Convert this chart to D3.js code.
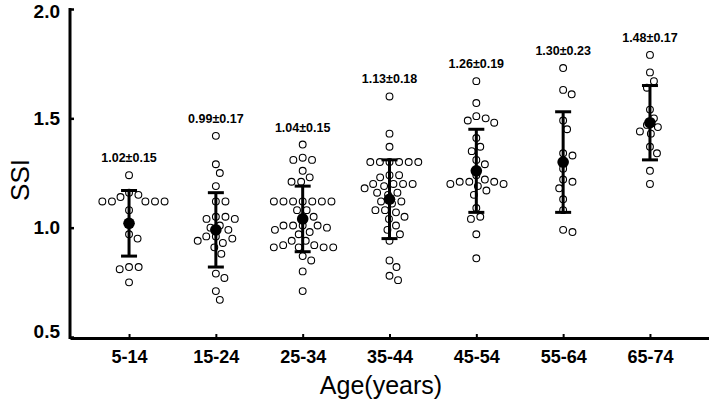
<!DOCTYPE html>
<html><head><meta charset="utf-8">
<script src="https://cdn.jsdelivr.net/npm/d3@7/dist/d3.min.js"></script>
<style>
html,body{margin:0;padding:0;background:#fff;}
svg{display:block;font-family:Arial,"Liberation Sans",Helvetica,sans-serif;}
</style></head><body>
<svg id="chart" width="709" height="407"></svg>
<script>
const categories = ["5-14","15-24","25-34","35-44","45-54","55-64","65-74"];
const means = [1.02,0.99,1.04,1.13,1.26,1.30,1.48];
const sds = [0.15,0.17,0.15,0.18,0.19,0.23,0.17];
const g5_14 = [1.24,1.16,1.15,1.14,1.12,1.12,1.12,1.12,1.12,1.08,0.97,0.95,0.82,0.82,0.81,0.75];
const g15_24 = [1.42,1.29,1.25,1.19,1.12,1.12,1.05,1.05,1.04,1.04,1.01,1.00,0.99,0.96,0.96,0.95,0.94,0.93,0.91,0.88,0.79,0.77,0.71,0.67];
const g25_34 = [1.38,1.32,1.31,1.31,1.26,1.23,1.21,1.21,1.12,1.12,1.12,1.12,1.12,1.12,1.12,1.08,1.08,1.05,1.01,1.01,1.01,1.01,1.00,0.99,0.98,0.97,0.94,0.94,0.92,0.92,0.91,0.91,0.91,0.91,0.87,0.85,0.80,0.71];
const g35_44 = [1.60,1.43,1.37,1.30,1.30,1.30,1.30,1.30,1.30,1.24,1.24,1.23,1.20,1.20,1.20,1.20,1.19,1.18,1.16,1.16,1.15,1.12,1.12,1.11,1.08,1.08,1.07,1.05,1.04,1.01,0.99,0.97,0.94,0.85,0.82,0.78,0.76];
const g45_54 = [1.67,1.57,1.51,1.50,1.49,1.48,1.41,1.37,1.35,1.31,1.29,1.24,1.22,1.21,1.21,1.21,1.20,1.20,1.19,1.17,1.15,1.09,1.05,1.04,0.97,0.86];
const g55_64 = [1.73,1.63,1.61,1.49,1.45,1.34,1.33,1.27,1.22,1.21,1.18,1.13,1.08,0.99,0.98];
const g65_74 = [1.79,1.71,1.67,1.64,1.54,1.50,1.47,1.46,1.44,1.43,1.37,1.34,1.26,1.20];
const groups = [g5_14,g15_24,g25_34,g35_44,g45_54,g55_64,g65_74];
const yTicks = [0.5,1.0,1.5,2.0];

const svg = d3.select("#chart");
const x = d3.scalePoint().domain(categories).range([70,709]).padding(0.68);
const y = d3.scaleLinear().domain([0.5,2.0]).range([337,9]);

// axes
const yAxis = d3.axisLeft(y).tickValues(yTicks).tickFormat(d3.format(".1f")).tickSize(-4).tickSizeOuter(0).tickPadding(10);
const gy = svg.append("g").attr("transform","translate(70,0)").call(yAxis);
gy.select(".domain").remove();
gy.append("line").attr("x1",0).attr("x2",0).attr("y1",y(2.0)-1).attr("y2",339).attr("stroke","#000").attr("stroke-width",3);
gy.selectAll(".tick line").attr("stroke","#000").attr("stroke-width",2.5);
gy.selectAll(".tick text").attr("fill","#000").style("font-size","19px").style("font-weight","bold");
gy.selectAll(".tick").filter(d=>d===2.0).select("text").attr("dy","0.45em");
gy.selectAll(".tick").filter(d=>d===0.5).select("text").attr("dy","0.05em");

const xAxis = d3.axisBottom(x).tickSize(-4).tickSizeOuter(0).tickPadding(12);
const gx = svg.append("g").attr("transform","translate(0,338)").call(xAxis);
gx.select(".domain").attr("stroke","#000").attr("stroke-width",3);
gx.selectAll(".tick line").attr("stroke","#000").attr("stroke-width",2);
gx.selectAll(".tick text").attr("fill","#000").style("font-size","18px").style("font-weight","bold");

svg.append("text").attr("transform","translate(29,180) rotate(-90)").attr("text-anchor","middle")
  .style("font-size","26px").text("SSI");
svg.append("text").attr("x",381).attr("y",394).attr("text-anchor","middle")
  .style("font-size","25px").text("Age(years)");

// beeswarm layout
function swarm(vals, dist){
  const pts = vals.map(v=>({v, py:y(v)})).sort((a,b)=>a.py-b.py);
  const placed = [];
  for(const p of pts){
    const cands=[0];
    for(const q of placed){
      const dy = Math.abs(q.py-p.py);
      if(dy<dist){ const dx=Math.sqrt(dist*dist-dy*dy); cands.push(q.dx+dx, q.dx-dx); }
    }
    cands.sort((a,b)=>Math.abs(a)-Math.abs(b));
    for(const c of cands){
      let ok=true;
      for(const q of placed){
        const ddx=q.dx-c, ddy=q.py-p.py;
        if(ddx*ddx+ddy*ddy < dist*dist-0.01){ok=false;break;}
      }
      if(ok){p.dx=c;break;}
    }
    placed.push(p);
  }
  return placed;
}

categories.forEach((c,i)=>{
  const cx = x(c);
  const g = svg.append("g");
  const pts = swarm(groups[i], 9.6);
  g.selectAll("circle.pt").data(pts).join("circle").attr("class","pt")
    .attr("cx",d=>cx+d.dx).attr("cy",d=>d.py).attr("r",3.4)
    .attr("fill","#fff").attr("stroke","#000").attr("stroke-width",1.1);
  const top=y(means[i]+sds[i]), bot=y(means[i]-sds[i]);
  g.append("line").attr("x1",cx).attr("x2",cx).attr("y1",top).attr("y2",bot).attr("stroke","#000").attr("stroke-width",3);
  [top,bot].forEach(yy=>g.append("line").attr("x1",cx-8).attr("x2",cx+8).attr("y1",yy).attr("y2",yy).attr("stroke","#000").attr("stroke-width",3));
  g.append("circle").attr("cx",cx).attr("cy",y(means[i])).attr("r",5.8).attr("fill","#000");
  g.append("text").attr("x",cx).attr("y",y(d3.max(groups[i]))-13).attr("text-anchor","middle")
    .style("font-size","12.5px").style("font-weight","bold")
    .text(means[i].toFixed(2)+"±"+sds[i].toFixed(2));
});
</script>
</body></html>
